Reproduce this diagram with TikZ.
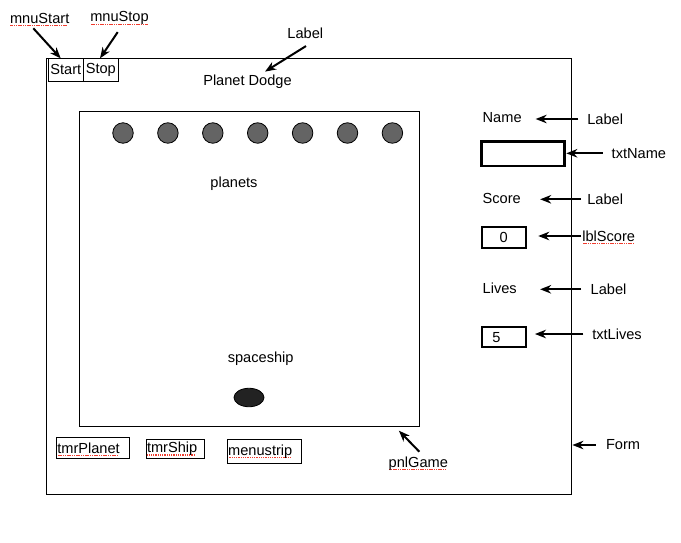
\documentclass[tikz,border=0pt]{standalone}
\usepackage{fontspec}
\setmainfont{Liberation Sans}
\usetikzlibrary{arrows.meta,shapes.geometric}
\definecolor{planetgray}{HTML}{646464}
\definecolor{shipfill}{HTML}{222222}
\definecolor{spellred}{HTML}{F03C2E}
\newsavebox\spbox
\newcommand\spell[1]{\sbox\spbox{#1}\leavevmode\rlap{\smash{\textcolor{spellred}{\raisebox{-2.8pt}{\leaders\hbox to 1.8pt{\hss\rule{1.1pt}{1.1pt}\hss}\hskip\wd\spbox}}}}\usebox\spbox}
\begin{document}
\begin{tikzpicture}[x=1pt,y=-1pt,
 txt/.style={font=\fontsize{14.6}{17}\selectfont, inner sep=0pt, outer sep=0pt},
 arr/.style={-{Stealth[length=11pt,width=8.5pt,inset=3.5pt]}, line width=2pt},
 frame/.style={draw, line width=0.8pt, inner sep=0pt},
 menubox/.style={frame, txt, minimum height=22.7pt, minimum width=35pt},
 compbox/.style={frame, txt, inner xsep=1pt, align=left},
 field/.style={draw, txt, line width=2pt},
 planet/.style={circle, draw, line width=0.8pt, fill=planetgray, minimum size=20.5pt, inner sep=0pt},
]
\useasboundingbox (0,0) rectangle (681,542);
% form and panel
\node[frame, minimum width=525pt, minimum height=436pt] (form) at (308.5,276) {};
\node[frame, minimum width=340pt, minimum height=314.5pt] (panel) at (249,268.75) {};
% menu
\node[menubox] (start) at (65.8,69.7) {Start};
\node[menubox] (stop) at (100.8,69.7) {Stop};
\node[txt] (mnuStart) at (39.7,18.3) {\spell{mnuStart}};
\node[txt] (mnuStop) at (119.5,18.3) {\spell{mnuStop}};
\draw[arr] ([xshift=-6.4pt,yshift=-4.8pt]mnuStart.south) -- ([xshift=-5.1pt]start.north);
\draw[arr] ([xshift=-1.8pt,yshift=-7.2pt]mnuStop.south) -- ([xshift=-0.8pt]stop.north);
% title
\node[txt] (lblTitle) at (305.3,33.3) {Label};
\node[txt] (title) at (247.5,81.7) {Planet Dodge};
\draw[arr] ([xshift=0.7pt,yshift=-7.4pt]lblTitle.south) -- ([xshift=17.5pt,yshift=3.3pt]title.north);
% planets
\foreach \i in {0,...,6} \node[planet] (p\i) at (123+44.9*\i,133) {};
\node[txt] (planetsLbl) at (234,184) {planets};
\node[txt] (shipLbl) at (260.7,358.3) {spaceship};
\node[ellipse, draw, line width=0.8pt, fill=shipfill, minimum width=30pt, minimum height=18.5pt, inner sep=0pt] (ship) at (249,397.5) {};
% components
\node[compbox, text width=70.6pt, minimum height=21.4pt] (tmrPlanet) at (92.6,448) {\spell{tmrPlanet}};
\node[compbox, text width=56.4pt, minimum height=19.4pt] (tmrShip) at (175.2,449) {\spell{tmrShip}};
\node[compbox, text width=71.8pt, minimum height=24pt] (menustrip) at (264.1,451.3) {\spell{menustrip}};
\node[txt] (pnlLbl) at (418.3,463.3) {\spell{pnlGame}};
\draw[arr] ([xshift=1pt,yshift=4.8pt]pnlLbl.north) -- ([xshift=-20.5pt,yshift=-4.3pt]panel.south east);
\node[txt, anchor=west] (formLbl) at (606,445) {Form};
\draw[arr, shorten <=10.5pt, shorten >=1pt] (formLbl.west) -- (formLbl.west -| form.east);
% right side fields
\node[field, line width=2.7pt, minimum width=83pt, minimum height=24.6pt] (nameBox) at (522.8,153.7) {};
\node[field, minimum width=43.7pt, minimum height=21.3pt] (scoreBox) at (503.8,237.3) {0};
\node[field, minimum height=20.3pt, text width=22.7pt, inner xsep=10.5pt, align=left] (livesBox) at (503.8,337.2) {5};
\node[txt, anchor=west] (nameLbl) at (482.7,118) {Name};
\node[txt, anchor=west] (scoreLbl) at (482.7,198.3) {Score};
\node[txt, anchor=west] (livesLbl) at (482.7,288.3) {Lives};
\node[txt, anchor=west] (lab1) at (587.3,119) {Label};
\node[txt, anchor=west] (lab2) at (587.3,199.3) {Label};
\node[txt, anchor=west] (lab3) at (590.7,289.3) {Label};
\node[txt, anchor=west] (txtNameLbl) at (611.7,153.3) {txtName};
\node[txt, anchor=west] (lblScoreLbl) at (582.3,236) {\spell{lblScore}};
\node[txt, anchor=west] (txtLivesLbl) at (592.3,334) {txtLives};
\draw[arr, shorten <=9pt, shorten >=14pt] (lab1.west) -- (lab1.west -| nameLbl.east);
\draw[arr, shorten <=9pt, shorten >=2pt] (txtNameLbl.west) -- (txtNameLbl.west -| nameBox.east);
\draw[arr, shorten <=6.3pt, shorten >=19.3pt] (lab2.west) -- (lab2.west -| scoreLbl.east);
\draw[arr, shorten <=1.3pt, shorten >=12.6pt] (lblScoreLbl.west) -- (lblScoreLbl.west -| scoreBox.east);
\draw[arr, shorten <=9.7pt, shorten >=23.3pt] (lab3.west) -- (lab3.west -| livesLbl.east);
\draw[arr, shorten <=9pt, shorten >=9.3pt] (txtLivesLbl.west) -- (txtLivesLbl.west -| livesBox.east);
\end{tikzpicture}
\end{document}
